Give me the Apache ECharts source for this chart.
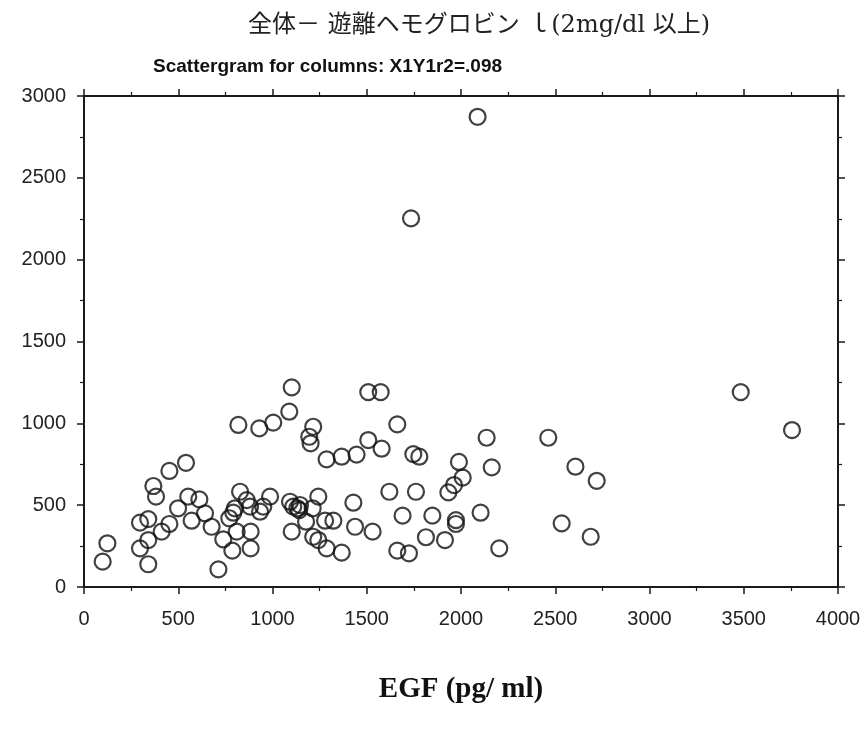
<!DOCTYPE html>
<html>
<head>
<meta charset="utf-8">
<script src="https://cdn.jsdelivr.net/npm/echarts@6/dist/echarts.min.js"></script>
<style>
html,body{margin:0;padding:0;background:#fff;}
#chart{width:865px;height:733px;}
</style>
</head>
<body>
<div id="chart"></div>
<script>
const titleText = "全体－ 遊離ヘモグロビン ｌ(2mg/dl 以上)";
const subtitleText = "Scattergram for columns: X1Y1r2=.098";
const xAxisName = "EGF (pg/ ml)";
const xTicks = [0, 500, 1000, 1500, 2000, 2500, 3000, 3500, 4000];
const yTicks = [0, 500, 1000, 1500, 2000, 2500, 3000];

const egf = [99,124,297,297,341,341,341,368,382,412,453,453,499,541,553,571,612,642,677,713,739,771,787,792,810,819,828,863,881,884,884,930,934,951,987,1004,1089,1102,1093,1102,1110,1132,1146,1142,1178,1195,1216,1202,1213,1216,1243,1243,1287,1287,1279,1323,1367,1367,1429,1438,1446,1508,1574,1662,1508,1579,1747,1779,1989,2009,1963,1933,2136,2163,2463,2607,2720,1531,1620,1761,1690,1848,1814,1915,1973,1973,2104,2203,1662,1724,2534,2688,3484,3756,2088,1735,801];
const hb  = [155,267,236,393,415,287,139,617,552,338,385,709,481,759,552,405,535,450,368,108,291,420,222,454,338,990,582,531,491,338,236,969,460,491,552,1004,1071,1220,521,338,491,481,501,470,399,918,979,878,481,307,552,287,236,780,405,405,796,210,515,368,809,1191,1191,994,898,845,812,796,764,668,623,578,912,731,912,735,649,338,582,582,436,436,304,287,409,385,454,236,222,206,389,307,1191,959,2873,2252,481];

const points = egf.map((x, i) => [x, hb[i]]);

const chart = echarts.init(document.getElementById('chart'));
const axisColor = '#1a1a1a';
const lab = {fontFamily: 'Liberation Sans, Arial, sans-serif', fontSize: 20, color: '#222', formatter: v => String(v)};

const xBase = {
  type: 'value', min: xTicks[0], max: xTicks[xTicks.length-1], interval: 500,
  axisLine: {show: true, onZero: false, lineStyle: {color: axisColor, width: 2}},
  axisTick: {show: true, inside: false, length: 7, lineStyle: {color: axisColor, width: 1.5}},
  minorTick: {show: true, splitNumber: 2, length: 4, lineStyle: {color: axisColor, width: 1.2}},
  splitLine: {show: false}
};
const yBase = {
  type: 'value', min: yTicks[0], max: yTicks[yTicks.length-1], interval: 500,
  axisLine: {show: true, onZero: false, lineStyle: {color: axisColor, width: 2}},
  axisTick: {show: true, inside: false, length: 7, lineStyle: {color: axisColor, width: 1.5}},
  minorTick: {show: true, splitNumber: 2, length: 4, lineStyle: {color: axisColor, width: 1.2}},
  splitLine: {show: false}
};

chart.setOption({
  backgroundColor: '#fff',
  animation: false,
  title: [
    {text: titleText, left: 243, top: 9,
     textStyle: {fontFamily: 'DejaVu Serif, Noto Sans CJK JP, serif', fontSize: 24, fontWeight: 'normal', color: '#222'}},
    {text: subtitleText, left: 148, top: 52,
     textStyle: {fontFamily: 'Liberation Sans, Arial, sans-serif', fontSize: 19, fontWeight: 'bold', color: '#111'}}
  ],
  grid: {left: 84, right: 27, top: 96, bottom: 146, containLabel: false},
  xAxis: [
    Object.assign({}, xBase, {
      position: 'bottom',
      axisLabel: Object.assign({margin: 22}, lab),
      name: xAxisName, nameLocation: 'middle', nameGap: 88,
      nameTextStyle: {fontFamily: 'Liberation Serif, Times New Roman, serif', fontSize: 29, fontWeight: 'bold', color: '#111'}
    }),
    Object.assign({}, xBase, {position: 'top', axisLabel: {show: false}})
  ],
  yAxis: [
    Object.assign({}, yBase, {position: 'left', axisLabel: Object.assign({margin: 18}, lab)}),
    Object.assign({}, yBase, {position: 'right', axisLabel: {show: false}})
  ],
  series: [{
    type: 'scatter',
    data: points,
    symbol: 'circle',
    symbolSize: 16,
    itemStyle: {color: 'rgba(255,255,255,0)', borderColor: '#111', borderWidth: 2.2},
    xAxisIndex: 0, yAxisIndex: 0
  }]
});
</script>
</body>
</html>
